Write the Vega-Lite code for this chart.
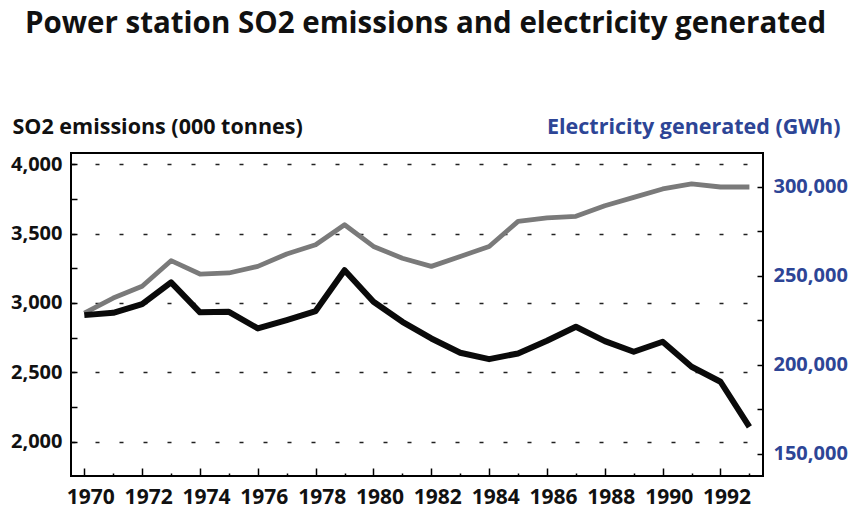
{
  "$schema": "https://vega.github.io/schema/vega-lite/v6.json",
  "autosize": "none",
  "width": 692,
  "height": 323,
  "padding": {"left": 71, "top": 153, "right": 85, "bottom": 37},
  "background": "white",
  "config": {
    "view": {"stroke": "black", "strokeWidth": 2},
    "axis": {"labelFont": "Open Sans", "labelFontWeight": "bold", "labelFontSize": 20, "titleFont": "Open Sans", "titleFontWeight": "bold", "titleFontSize": 21.5, "domain": false}
  },
  "title": {
    "text": "Power station SO2 emissions and electricity generated",
    "font": "Open Sans", "fontSize": 29.5, "fontWeight": "bold", "color": "#111",
    "anchor": "start", "frame": "group", "dx": -46, "baseline": "alphabetic", "offset": 54
  },
  "data": {"values": [
    {"year": 1970, "so2": 2912, "elec": 229200},
    {"year": 1971, "so2": 2929, "elec": 237600},
    {"year": 1972, "so2": 2991, "elec": 244200},
    {"year": 1973, "so2": 3148, "elec": 258600},
    {"year": 1974, "so2": 2932, "elec": 251100},
    {"year": 1975, "so2": 2936, "elec": 251700},
    {"year": 1976, "so2": 2816, "elec": 255400},
    {"year": 1977, "so2": 2876, "elec": 262400},
    {"year": 1978, "so2": 2941, "elec": 267600},
    {"year": 1979, "so2": 3236, "elec": 278800},
    {"year": 1980, "so2": 3008, "elec": 266600},
    {"year": 1981, "so2": 2864, "elec": 260000},
    {"year": 1982, "so2": 2744, "elec": 255400},
    {"year": 1983, "so2": 2641, "elec": 261000},
    {"year": 1984, "so2": 2595, "elec": 266600},
    {"year": 1985, "so2": 2636, "elec": 280700},
    {"year": 1986, "so2": 2727, "elec": 282600},
    {"year": 1987, "so2": 2828, "elec": 283500},
    {"year": 1988, "so2": 2725, "elec": 289500},
    {"year": 1989, "so2": 2648, "elec": 294200},
    {"year": 1990, "so2": 2720, "elec": 298900},
    {"year": 1991, "so2": 2540, "elec": 301700},
    {"year": 1992, "so2": 2432, "elec": 300000},
    {"year": 1993, "so2": 2107, "elec": 300000}
  ]},
  "encoding": {
    "x": {
      "field": "year", "type": "quantitative",
      "scale": {"domain": [1969.54, 1993.47], "nice": false, "zero": false},
      "axis": {
        "title": null, "grid": false, "offset": -8, "ticks": true, "tickColor": "black", "tickWidth": 1.5,
        "values": [1970,1971,1972,1973,1974,1975,1976,1977,1978,1979,1980,1981,1982,1983,1984,1985,1986,1987,1988,1989,1990,1991,1992,1993],
        "labelExpr": "datum.value % 2 === 0 ? datum.value + '' : ''",
        "tickSize": 8,
        "tickDash": {"condition": {"test": "datum.value % 2 === 0", "value": [8, 0]}, "value": [0, 5, 3]},
        "labelFontSize": 21,
        "labelPadding": 10, "labelOffset": 6, "labelFlush": false, "labelOverlap": false, "labelColor": "#111"
      }
    }
  },
  "layer": [
    {
      "mark": {"type": "line", "color": "#7a7a7a", "strokeWidth": 4.8, "strokeJoin": "round"},
      "encoding": {
        "y": {
          "field": "elec", "type": "quantitative",
          "scale": {"domain": [137640, 319100], "nice": false, "zero": false},
          "axis": {
            "orient": "right", "grid": false, "offset": -6, "ticks": true, "tickColor": "black", "tickWidth": 1.5,
            "title": "Electricity generated (GWh)", "titleColor": "#2d4596",
            "titleAngle": 0, "titleAlign": "right", "titleBaseline": "alphabetic", "titleX": 83, "titleY": -20,
            "values": [150000, 175000, 200000, 225000, 250000, 275000, 300000],
            "labelExpr": "datum.value % 50000 === 0 ? format(datum.value, ',') : ''",
            "labelColor": "#2d4596", "tickSize": 6, "labelPadding": 10, "labelOverlap": false, "labelFlush": false
          }
        }
      }
    },
    {
      "mark": {"type": "line", "color": "#0a0a0a", "strokeWidth": 6, "strokeJoin": "round"},
      "encoding": {
        "y": {
          "field": "so2", "type": "quantitative",
          "scale": {"domain": [1753, 4080], "nice": false, "zero": false},
          "axis": {
            "orient": "left", "offset": -6, "ticks": true, "tickColor": "black", "tickWidth": 1.5,
            "title": "SO2 emissions (000 tonnes)", "titleColor": "#111",
            "titleAngle": 0, "titleAlign": "left", "titleBaseline": "alphabetic", "titleX": -65, "titleY": -20,
            "values": [2000, 2250, 2500, 2750, 3000, 3250, 3500, 3750, 4000],
            "labelExpr": "datum.value % 500 === 0 ? format(datum.value, ',') : ''",
            "labelColor": "#111", "tickSize": 6, "labelPadding": 9, "labelOverlap": false, "labelFlush": false,
            "grid": true, "gridColor": "#222", "gridWidth": 1.5, "gridDash": [4, 20],
            "gridOpacity": {"condition": {"test": "datum.value % 500 === 0", "value": 1}, "value": 0}
          }
        }
      }
    }
  ],
  "resolve": {"scale": {"y": "independent"}}
}
